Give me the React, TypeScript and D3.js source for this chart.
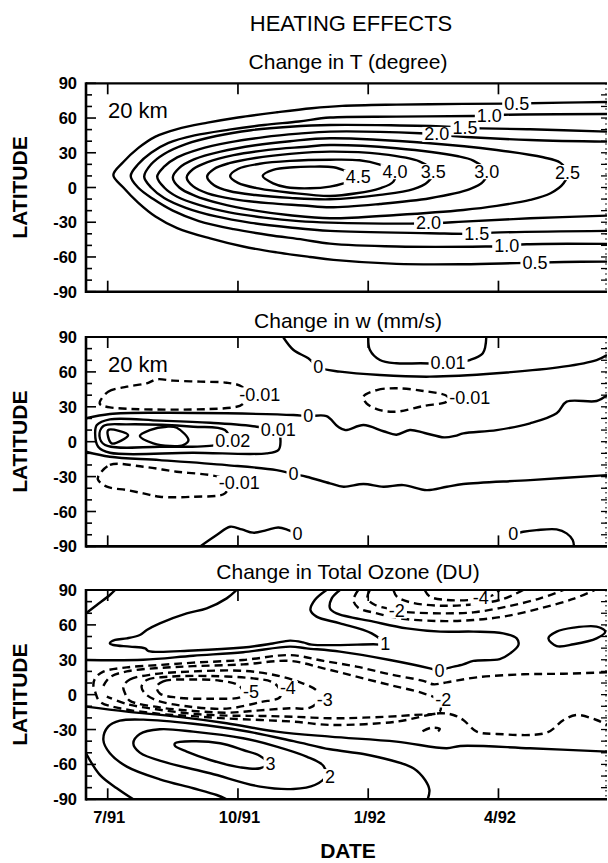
import React from "react";
import * as d3 from "d3";

type Pt = [number, number]; // [months since 1 Jul 1991, latitude]

// ---------- axes ----------
const monthTicks = [0, 3, 6, 9];
const monthTickLabels = ["7/91", "10/91", "1/92", "4/92"];
const latMajor = [-90, -60, -30, 0, 30, 60, 90];
const latMinor = [-80, -70, -50, -40, -20, -10, 10, 20, 40, 50, 70, 80];
const latRight = [-80, -70, -60, -50, -40, -30, -20, -10, 0, 10, 20, 30, 40, 50, 60, 70, 80];

// ---------- Panel 1: change in T ----------
const t05: Pt[] = [[11.5,73.9],[10.5,73.3],[9.42,72.5],[8.19,72.2],[6.65,71.6],[5.4,70.5],[4.7,68.5],[3.9,65],[3.0,60.5],[2.3,56],[1.6,50.5],[1.1,44],[0.7,34],[0.36,22],[0.13,10.8],[0.36,0],[0.7,-13],[1.1,-25],[1.6,-35],[2.36,-44],[3.12,-51],[3.89,-56],[4.66,-60],[5.2,-62.5],[6.65,-66],[8.19,-66.3],[9.42,-65.3],[10.5,-64.3],[11.5,-64]];
const t10: Pt[] = [[11.5,63.5],[9.15,62.8],[8.79,62],[8.42,61.8],[6.65,61.2],[5.12,60.4],[4.4,57],[3.6,54],[2.8,50],[2.0,45],[1.4,38.5],[1.0,30],[0.7,20],[0.53,10],[0.7,0],[1.05,-10],[1.5,-20],[2.1,-29],[2.9,-36],[3.7,-41],[4.5,-45],[5.12,-48.5],[6.65,-51],[8.7,-51],[9.19,-50.5],[9.65,-49],[11.5,-48.7]];
const t15: Pt[] = [[11.5,48.3],[9.73,50.3],[8.62,51.1],[8.23,51.5],[7.8,52.6],[5.12,54],[4.2,52.5],[3.3,49.5],[2.5,44.5],[1.8,37.5],[1.3,29],[1.0,20],[0.84,9.4],[1.0,0],[1.3,-9],[1.8,-17.5],[2.5,-25],[3.3,-30.5],[4.2,-34.5],[5.12,-37.5],[7.42,-39.5],[8.5,-40],[8.88,-39],[11.5,-37.5]];
const t20: Pt[] = [[11.5,39.6],[9.73,41],[7.96,44.5],[7.58,45.8],[7.19,46.8],[5.12,48.3],[4.4,46.5],[3.6,43.5],[2.8,39],[2.1,33],[1.6,26],[1.3,18],[1.14,9.4],[1.3,0],[1.6,-8],[2.1,-15],[2.8,-21.5],[3.6,-26],[4.4,-29],[5.12,-30.3],[6.96,-31.2],[7.39,-30.9],[8.19,-29.5],[9.73,-26.6],[11.5,-24.3]];
const t25: Pt[] = [[1.5,8.8],[1.65,17],[2.0,24.5],[2.6,31],[3.4,36.5],[4.2,40],[5.12,42.5],[7.42,38.2],[8.96,32.4],[10.03,26.1],[10.42,21.5],[10.59,12.9],[10.5,3.6],[10.2,-5],[9.73,-10.7],[8.96,-15.9],[8.19,-19.4],[6.65,-23.7],[5.12,-26.6],[4.2,-24],[3.4,-20],[2.6,-14],[2.0,-7],[1.65,0]];
const t30: Pt[] = [[1.82,8.8],[1.97,16],[2.3,22],[2.9,28],[3.7,32.5],[4.5,35],[5.12,36.7],[6.65,33.9],[8.04,27.2],[8.42,23.2],[8.73,13.7],[8.65,5.1],[8.34,-1.5],[7.42,-9.3],[6.27,-14.2],[5.12,-17.1],[4.5,-15.5],[3.7,-13.5],[2.9,-10],[2.3,-5],[1.97,1]];
const t35: Pt[] = [[2.29,9.4],[2.45,16],[2.8,21],[3.4,25.5],[4.2,29],[5.12,31],[6.27,29],[7.19,22.4],[7.5,13.7],[7.38,5.1],[7.04,-1.5],[6.27,-6.4],[5.12,-10.2],[4.2,-9],[3.4,-6.5],[2.8,-3],[2.45,2]];
const t40: Pt[] = [[2.82,10],[3.0,16],[3.5,20.5],[4.2,23],[5.12,24],[5.8,23.5],[6.25,20],[6.62,13.7],[6.58,5.1],[6.27,-0.7],[5.73,-5],[5.12,-7.3],[4.2,-4.5],[3.5,-1],[3.0,4]];
const t45: Pt[] = [[3.57,10],[3.81,15.2],[4.28,17.5],[4.66,18],[5.2,17.5],[5.5,14],[5.77,8.8],[5.43,3.6],[5.12,0.8],[4.66,-0.7],[4.12,0.2],[3.81,3.6]];
const tLabelText = ["0.5","0.5","1.0","1.0","1.5","1.5","2.0","2.0","2.5","3.0","3.5","4.0","4.5"];
const tLabelAt: Pt[] = [[9.42,72.5],[9.84,-64.9],[8.79,62],[9.19,-50.5],[8.23,51.5],[8.5,-40],[7.58,45.8],[7.39,-30.9],[10.59,12.9],[8.73,13.7],[7.5,13.7],[6.62,13.7],[5.77,8.8]];

// ---------- Panel 2: change in w ----------
const w0Top: Pt[] = [[4.04,90],[4.28,78.8],[4.62,71.7],[4.85,64],[5.35,60.2],[6.27,57.3],[7.42,55.9],[8.96,58.8],[10.49,64.5],[11.26,70.2],[11.5,74.5]];
const wP01Top: Pt[] = [[6.0,90],[6.04,78.8],[6.27,70.2],[6.65,67.4],[7.2,67.4],[7.84,67.4],[8.34,70.2],[8.64,76],[8.72,90]];
const wM01Mid: Pt[] = [[5.89,38.7],[6.2,44.4],[6.65,45.9],[7.27,43.6],[7.77,40.1],[7.85,37.3],[7.81,34.4],[7.27,30.7],[6.65,25.8],[6.27,27.2],[5.96,33]];
const wM01UL: Pt[] = [[-0.18,34.4],[0.01,43],[0.44,47.3],[0.9,50.2],[1.13,53.6],[1.51,52.5],[2.13,51.6],[2.74,50.7],[3.09,47.3],[3.2,40],[3.11,32.4],[2.89,29.5],[0.05,29.5],[-0.18,32.4]];
const wM01LL: Pt[] = [[-0.22,-30.1],[0.05,-20],[0.82,-21.5],[1.59,-25.8],[2.36,-28.7],[2.66,-31.5],[2.78,-36],[2.7,-44.4],[1.97,-47.3],[1.2,-47.3],[0.82,-44.4],[0.44,-41.6],[-0.02,-38.7],[-0.22,-33]];
const w0EqN: Pt[] = [[-0.5,20.1],[0.05,23.8],[1.2,24.9],[2.74,24.4],[4.28,22.9],[4.62,22],[5.04,22],[5.3,13],[5.47,10],[5.89,14.3],[6.35,9],[6.65,6],[6.96,10],[7.3,7.5],[7.75,3.7],[8.0,5],[8.19,7.2],[8.96,10],[9.73,15.8],[10.34,24.4],[10.57,34.4],[11.26,35],[11.5,40]];
const w0EqS: Pt[] = [[-0.5,-8.6],[0.05,-12.9],[1.2,-15.8],[2.74,-20.1],[3.89,-24.4],[4.28,-27.8],[4.58,-30.1],[5.12,-35.8],[5.43,-38.7],[5.89,-36.4],[6.35,-38.7],[6.81,-37.3],[7.35,-41.6],[7.81,-38.7],[8.19,-36.4],[9.73,-33],[11.5,-28.7]];
const wP01Eq: Pt[] = [[-0.25,14.3],[0.05,19.2],[1.2,18.1],[2.36,16.3],[3.43,12.9],[3.93,8],[3.98,0],[3.93,-7.2],[3.66,-10],[1.97,-9.5],[0.05,-9.5],[-0.22,-4.3],[-0.29,7.2]];
const wP02Eq: Pt[] = [[-0.1,13.5],[0.44,14.9],[1.97,12.9],[2.7,10],[2.8,2],[2.47,-2.9],[1.2,-4.3],[-0.06,-2.9],[-0.19,4.9]];
const wP03A: Pt[] = [[0.01,10],[0.47,5.7],[0.09,-1.4]];
const wP03B: Pt[] = [[0.74,4.9],[0.97,10],[1.36,12.9],[1.59,12],[1.86,1.4],[1.74,-2.9],[1.43,-3.7],[1.05,-1.4]];
const w0SW: Pt[] = [[2.13,-90],[2.51,-80.2],[2.82,-73.1],[3.09,-75.4],[3.35,-78.2],[3.66,-76],[3.93,-73.7],[4.16,-76],[4.37,-79.4]];
const w0SE: Pt[] = [[9.34,-79.4],[9.57,-77.4],[9.88,-76],[10.34,-75.4],[10.57,-78.8],[10.71,-84.5],[10.74,-90]];
const wLabelText = ["0","0.01","-0.01","-0.01","0","0.01","0.02","0","-0.01","0","0"];
const wLabelAt: Pt[] = [[4.85,64],[7.84,67.4],[8.34,37.3],[3.5,40.1],[4.62,22],[3.93,10],[2.88,0.9],[4.28,-27.8],[3.03,-35.8],[4.37,-79.4],[9.34,-79.4]];

// ---------- Panel 3: change in total ozone ----------
const oNW: Pt[] = [[-0.5,69.9],[-0.25,77.1],[0.05,85.7],[0.17,90]];
const oP1N: Pt[] = [[2.97,90],[2.74,82.8],[2.28,74.2],[1.82,69.9],[1.2,61.3],[0.9,55.6],[0.74,51.3],[0.44,48.4],[0.17,47],[0.05,44.1],[0.13,42.7],[0.51,41.3],[0.86,39.8],[0.94,37.5],[1.97,38],[3.12,40.5],[3.8,44],[4.2,46.5],[4.5,45],[4.7,43],[6.12,43.3],[6.39,43.3],[6.08,52.7],[5.35,61.3],[4.81,67.1],[4.67,72.8],[4.77,81.4],[5.04,90]];
const o0N: Pt[] = [[-0.5,29.8],[0.82,30],[1.97,33.5],[3.12,36.5],[4.2,41.3],[4.58,39.8],[5.35,37],[6.5,29.8],[7.42,22.6],[7.64,20.4],[7.81,22.6],[8.19,26.1],[8.42,29],[9.03,30.6],[9.27,35.5],[9.46,42.7],[9.42,48.4],[9.11,52.7],[8.42,54.2],[7.66,54.2],[6.89,57],[6.12,62.8],[5.27,69.9],[5.12,74.2],[5.16,82.8],[5.35,90]];
const oM1N: Pt[] = [[5.77,90],[5.66,81.4],[5.77,74.8],[6.2,69.9],[6.73,65.6],[7.65,63.3],[8.42,64.2],[9.11,67.1],[9.96,74.2],[10.72,82.3],[11.22,90]];
const oM2N: Pt[] = [[6.04,90],[5.98,82.8],[6.16,77.1],[6.5,73.7],[6.66,71.9],[6.97,70.8],[7.66,69.9],[8.42,70.8],[9.19,75.7],[9.96,82.8],[10.5,90]];
const oM3N: Pt[] = [[6.58,90],[6.66,84.3],[6.97,79.4],[7.66,76.5],[8.42,77.7],[9.11,82.3],[9.57,90]];
const oM4N: Pt[] = [[7.3,90],[7.42,84.3],[7.81,81.4],[8.34,81.4],[8.59,82.8],[8.88,85.7],[9.03,90]];
const oP1E: Pt[] = [[10.15,48.4],[10.34,54.2],[10.73,57.6],[11.26,58.5],[11.46,54.2],[11.26,48.4],[10.73,43.3],[10.34,41.8]];
const oM1Eq: Pt[] = [[11.5,19.2],[10.5,18],[9.57,17.5],[8.5,14.9],[7.81,10.6],[7.5,8.9],[7.27,11.8],[6.5,17.5],[5.73,24.1],[4.97,29],[4.2,34],[3.12,29.8],[1.97,27.5],[1.2,25.5],[0.44,23.5],[-0.1,19.8],[-0.29,14],[-0.33,8.3],[-0.29,2.6],[-0.18,-6],[0.28,-11.7],[1.2,-16.5],[1.97,-18.5],[2.74,-20.5],[4.28,-23.2],[5.12,-26],[6.65,-23.2],[7.65,-16],[7.96,-17.5],[8.19,-21.8],[8.5,-31.8],[8.96,-33.8],[10.11,-32.7],[10.5,-21.8],[10.8,-17.5],[11.26,-21.8],[11.5,-26]];
const oM1Bit: Pt[] = [[7.25,-31.5],[7.45,-28.5],[7.65,-29.5],[7.6,-32]];
const oM2Eq: Pt[] = [[-0.1,7.5],[0.05,15],[0.44,20],[1.2,23],[1.97,24.5],[3.12,26],[4.2,29],[4.97,22.6],[5.73,15.5],[6.5,8.3],[7.27,1.1],[7.62,-4.6],[7.65,-14.6],[7.04,-17.5],[5.89,-19.8],[5.12,-20.3],[4.28,-19],[3.51,-18.3],[2.74,-18],[1.97,-16.5],[1.2,-13],[0.44,-8],[-0.02,-1.7]];
const oM3Eq: Pt[] = [[0.36,7],[0.51,13],[1.05,17.5],[1.97,20],[3.12,20.5],[3.89,16.5],[4.4,11],[4.8,4],[4.9,-3],[4.66,-11.2],[4.2,-11.7],[3.5,-13.5],[2.74,-15.5],[1.97,-14],[1.2,-11],[0.5,-5],[0.4,1]];
const oM4Eq: Pt[] = [[0.78,7],[0.9,12.6],[1.43,15.5],[2.36,16],[3.35,14],[3.81,10.5],[3.95,5],[3.97,-2],[3.51,-6.5],[2.74,-12],[1.82,-10],[1.13,-5],[0.86,1]];
const oM5Eq: Pt[] = [[1.13,6.9],[1.28,11.5],[1.97,13],[2.59,12],[3.0,8.5],[3.1,4],[3.09,-1.5],[2.36,-3.5],[1.59,-2.5],[1.2,1]];
const o0S: Pt[] = [[-0.5,-10.3],[0.44,-14.6],[1.59,-18.9],[2.74,-24.6],[3.89,-31.8],[5.12,-36.1],[6.65,-40.4],[7.81,-46.1],[8.12,-44.1],[9.73,-46.1],[11.5,-49]];
const oP1S: Pt[] = [[2.74,-90],[2.51,-86.3],[1.97,-80.5],[1.2,-72.8],[0.44,-61.9],[0.05,-50.4],[-0.1,-39],[0.01,-27.5],[0.28,-22.4],[0.82,-21.5],[1.97,-25],[3.12,-31],[4.28,-40],[5.12,-47],[5.89,-51],[6.5,-56.2],[7.04,-63.3],[7.31,-73.4],[7.41,-82],[7.37,-90]];
const oP2S: Pt[] = [[0.74,-33.8],[1.2,-29.8],[1.97,-31.8],[3.12,-37.5],[3.89,-44.7],[4.58,-53.3],[4.97,-61.3],[5.02,-70],[4.77,-77.7],[4.28,-81.1],[3.51,-79.1],[2.36,-67.6],[1.36,-58.5],[0.74,-49.9],[0.59,-41.8]];
const oP3S: Pt[] = [[1.55,-41.8],[1.97,-40.1],[2.59,-41.8],[3.12,-47.6],[3.51,-52.7],[3.68,-59],[3.51,-63.3],[3.05,-62.5],[2.36,-56.2],[1.82,-49],[1.55,-44.1]];
const oSW: Pt[] = [[-0.5,-50.4],[-0.18,-69],[0.21,-80.5],[0.59,-90]];
const oLabelText = ["1","0","-2","-4","-5","-4","-3","-2","3","2"];
const oLabelAt: Pt[] = [[6.39,43.3],[7.64,20.4],[6.66,71.9],[8.59,82.8],[3.3,2.6],[4.15,5.4],[5.0,-4.6],[7.73,-4.6],[3.75,-59.9],[5.12,-70.5]];

// ---------- assembly ----------
type Contour = { pts: Pt[]; closed: boolean; dashed: boolean };
const C = (pts: Pt[], closed = false, dashed = false): Contour => ({ pts, closed, dashed });

const tContours = [C(t05), C(t10), C(t15), C(t20), C(t25, true), C(t30, true), C(t35, true), C(t40, true), C(t45, true)];
const wContours = [C(w0Top), C(wP01Top), C(wM01Mid, true, true), C(wM01UL, true, true), C(wM01LL, true, true), C(w0EqN), C(w0EqS), C(wP01Eq, true), C(wP02Eq, true), C(wP03A, true), C(wP03B, true), C(w0SW), C(w0SE)];
const oContours = [C(oNW), C(oP1N), C(o0N), C(oM1N, false, true), C(oM2N, false, true), C(oM3N, false, true), C(oM4N, false, true), C(oP1E, true), C(oM1Eq, false, true), C(oM1Bit, false, true), C(oM2Eq, false, true), C(oM3Eq, true, true), C(oM4Eq, true, true), C(oM5Eq, true, true), C(o0S), C(oP1S), C(oP2S, true), C(oP3S, true), C(oSW)];

const layout = [
  { title: "Change in T (degree)", titleY: 69, top: 83.3, bottom: 291.7, tag: "20 km", tagY: 118, contours: tContours, lt: tLabelText, la: tLabelAt },
  { title: "Change in w (mm/s)", titleY: 327.5, top: 337, bottom: 546.4, tag: "20 km", tagY: 372, contours: wContours, lt: wLabelText, la: wLabelAt },
  { title: "Change in Total Ozone (DU)", titleY: 578.5, top: 590, bottom: 799.3, tag: "", tagY: 0, contours: oContours, lt: oLabelText, la: oLabelAt },
];

const FONT = "'Liberation Sans', Arial, Helvetica, sans-serif";
const X0 = 86, X1 = 607;
const LFS = 18;
const charW = (s: string) => s.split("").reduce((a, ch) => a + (ch === "." ? 0.278 : ch === "-" ? 0.333 : 0.556), 0);

export default function App() {
  const x = d3.scaleLinear().domain([-0.5, 11.5]).range([X0, X1]);
  return (
    <svg width={608} height={863} style={{ position: "absolute", left: 0, top: 0, background: "#fff" }} fontFamily={FONT}>
      <rect x={0} y={0} width={608} height={863} fill="#fff" />
      <text x={351} y={31} textAnchor="middle" fontSize={22}>HEATING EFFECTS</text>
      {layout.map((p, pi) => {
        const y = d3.scaleLinear().domain([-90, 90]).range([p.bottom, p.top]);
        const open = d3.line<Pt>().x(d => x(d[0])).y(d => y(d[1])).curve(d3.curveCatmullRom.alpha(0.5));
        const closed = d3.line<Pt>().x(d => x(d[0])).y(d => y(d[1])).curve(d3.curveCatmullRomClosed.alpha(0.5));
        const mid = (p.top + p.bottom) / 2;
        return (
          <g key={pi}>
            <defs>
              <clipPath id={`clip${pi}`}>
                <rect x={X0} y={p.top} width={X1 - X0} height={p.bottom - p.top} />
              </clipPath>
            </defs>
            <text x={348} y={p.titleY} textAnchor="middle" fontSize={21}>{p.title}</text>
            <text transform={`translate(27,${mid}) rotate(-90)`} textAnchor="middle" fontSize={21} fontWeight="bold">LATITUDE</text>
            <g clipPath={`url(#clip${pi})`}>
              {p.contours.map((c, ci) => (
                <path key={ci} d={(c.closed ? closed : open)(c.pts) || ""} fill="none" stroke="#000" strokeWidth={2.4}
                  strokeDasharray={c.dashed ? "8,5" : undefined} strokeLinejoin="round" />
              ))}
              {p.lt.map((t, li) => {
                const w = charW(t) * LFS + 4;
                return <rect key={`bg${li}`} x={x(p.la[li][0]) - w / 2} y={y(p.la[li][1]) - LFS * 0.42} width={w} height={LFS * 0.84} fill="#fff" />;
              })}
            </g>
            {p.lt.map((t, li) => (
              <text key={li} x={x(p.la[li][0])} y={y(p.la[li][1])} textAnchor="middle" dominantBaseline="central"
                fontSize={LFS} fill="#000">{t}</text>
            ))}
            {p.tag && <text x={108} y={p.tagY} fontSize={22}>{p.tag}</text>}
            {/* frame */}
            <line x1={X0} x2={X1} y1={p.top} y2={p.top} stroke="#000" strokeWidth={2.2} />
            <line x1={X0} x2={X1} y1={p.bottom} y2={p.bottom} stroke="#000" strokeWidth={2.6} />
            <line x1={X0} x2={X0} y1={p.top - 1} y2={p.bottom + 1.3} stroke="#000" strokeWidth={2.6} />
            <line x1={X1 - 1} x2={X1 - 1} y1={p.top} y2={p.bottom} stroke="#000" strokeWidth={1.2} strokeDasharray="1.5,3.5" />
            {latRight.map(v => <line key={`r${v}`} x1={X1 - 6} x2={X1} y1={y(v)} y2={y(v)} stroke="#000" strokeWidth={1.3} />)}
            {latMajor.map(v => (
              <g key={`M${v}`}>
                <line x1={X0} x2={X0 + 10} y1={y(v)} y2={y(v)} stroke="#000" strokeWidth={1.6} />
                <text x={77} y={y(v)} textAnchor="end" dominantBaseline="central" fontSize={16.5} fontWeight="bold">{v}</text>
              </g>
            ))}
            {latMinor.map(v => <line key={`m${v}`} x1={X0} x2={X0 + 6} y1={y(v)} y2={y(v)} stroke="#000" strokeWidth={1.6} />)}
            {monthTicks.map(m => (
              <g key={`t${m}`}>
                <line x1={x(m)} x2={x(m)} y1={p.top} y2={p.top + 11} stroke="#000" strokeWidth={1.7} />
                <line x1={x(m)} x2={x(m)} y1={p.bottom} y2={p.bottom - 11} stroke="#000" strokeWidth={1.7} />
              </g>
            ))}
          </g>
        );
      })}
      {monthTicks.map((m, i) => (
        <text key={`xl${m}`} x={x(m) + 1.5} y={823} textAnchor="middle" fontSize={16.5} fontWeight="bold">{monthTickLabels[i]}</text>
      ))}
      <text x={348} y={858} textAnchor="middle" fontSize={21} fontWeight="bold">DATE</text>
    </svg>
  );
}
